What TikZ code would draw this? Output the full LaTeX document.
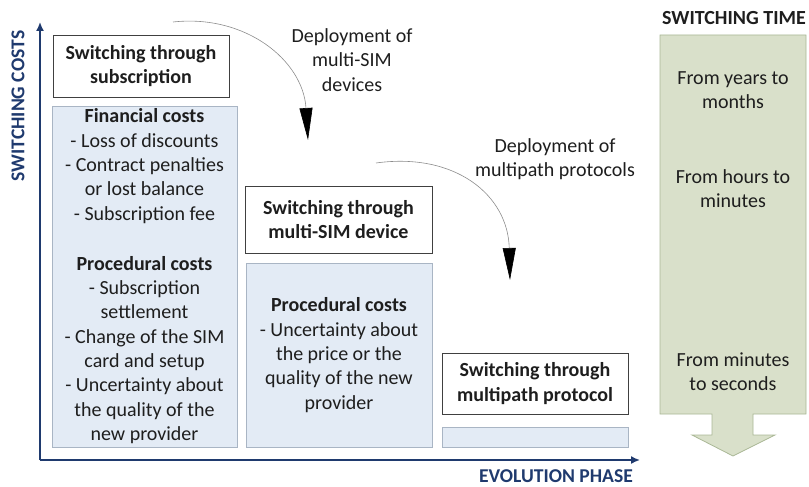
\documentclass[tikz,border=0pt]{standalone}
\usepackage{fontspec}
\setmainfont{Carlito}
\usetikzlibrary{arrows.meta}

\definecolor{axisblue}{HTML}{1F3A6E}
\definecolor{costfill}{HTML}{E3EBF5}
\definecolor{costline}{HTML}{A9B5C4}
\definecolor{timefill}{HTML}{D9E0CA}
\definecolor{timeline}{HTML}{AAB896}
\definecolor{ink}{HTML}{1E1E1E}

\begin{document}
\begin{tikzpicture}[x=1pt,y=-1pt,
  txt/.style={font=\fontsize{20}{24.3}\selectfont, text=ink, align=center, inner sep=0pt},
  phasebox/.style={draw=black!75, line width=0.9pt, fill=white, inner sep=0pt,
    font=\bfseries\fontsize{20}{24.5}\selectfont, text=ink, align=center},
  costbox/.style={draw=costline, line width=0.8pt, fill=costfill, inner sep=0pt},
  axislabel/.style={font=\bfseries\fontsize{19.6}{22}\selectfont, text=axisblue, inner sep=0pt},
  axisline/.style={draw=axisblue, line width=1.6pt},
  phasearrow/.style={draw=black!45, line width=0.6pt,
    -{Triangle[length=32pt,width=13pt,color=black,fill=black]}},
]
\useasboundingbox (0,0) rectangle (809,487);

% axes
\coordinate (origin) at (40,460);
\coordinate (ytop) at (40,22);
\coordinate (xend) at (640,460);
\draw[axisline, -{Latex[length=9pt,width=8pt]}] (origin) -- (ytop);
\draw[axisline, -{Latex[length=9pt,width=8pt]}] (origin) -- (xend);
\node[axislabel, rotate=90] (ylab) at (18,106) {SWITCHING COSTS};
\node[axislabel] (xlab) at (556,476.5) {EVOLUTION PHASE};

% phase 1: subscription
\node[phasebox, minimum width=176, minimum height=62] (p1) at (141,66) {Switching through\\subscription};
\node[costbox, minimum width=185, minimum height=341] (c1) at (144.5,276.5) {};
\node[txt] (fin1) at (144.5,166) {\textbf{Financial costs}\\- Loss of discounts\\- Contract penalties\\or lost balance\\- Subscription fee};
\node[txt] (proc1) at (144.5,350) {\textbf{Procedural costs}\\- Subscription\\settlement\\- Change of the SIM\\card and setup\\- Uncertainty about\\the quality of the\\new provider};

% phase 2: multi-SIM device
\node[phasebox, minimum width=187, minimum height=67] (p2) at (338.5,219.5) {Switching through\\multi-SIM device};
\node[costbox, minimum width=186, minimum height=184] (c2) at (339,355) {};
\node[txt] (proc2) at (339,355) {\textbf{Procedural costs}\\- Uncertainty about\\the price or the\\quality of the new\\provider};

% phase 3: multipath protocol
\node[phasebox, minimum width=186, minimum height=61] (p3) at (535,383.5) {Switching through\\multipath protocol};
\node[costbox, minimum width=186, minimum height=20] (c3) at (535,437) {};

% transitions between phases
\coordinate (t1s) at (173,22);
\coordinate (t1e) at (308,140);
\draw[phasearrow] (t1s) .. controls (245,14) and (303,60) .. (t1e);
\node[txt] (t1lab) at (352,60) {Deployment of\\multi-SIM\\devices};

\coordinate (t2s) at (376,163);
\coordinate (t2e) at (510,280);
\draw[phasearrow] (t2s) .. controls (455,152) and (508,195) .. (t2e);
\node[txt] (t2lab) at (555,159) {Deployment of\\multipath protocols};

% switching time arrow
\node[font=\bfseries\fontsize{20}{22}\selectfont, text=ink, inner sep=0pt] (ttitle) at (734,18) {SWITCHING TIME};
\draw[draw=timeline, line width=0.8pt, fill=timefill]
  (660,35) -- (806,35) -- (806,414) -- (753,414) -- (753,435) -- (775,435)
  -- (733,456) -- (692,435) -- (712,435) -- (712,414) -- (660,414) -- cycle;
\node[txt] (tm1) at (733,90) {From years to\\months};
\node[txt] (tm2) at (733,188.5) {From hours to\\minutes};
\node[txt] (tm3) at (733,371.5) {From minutes\\to seconds};
\end{tikzpicture}
\end{document}
